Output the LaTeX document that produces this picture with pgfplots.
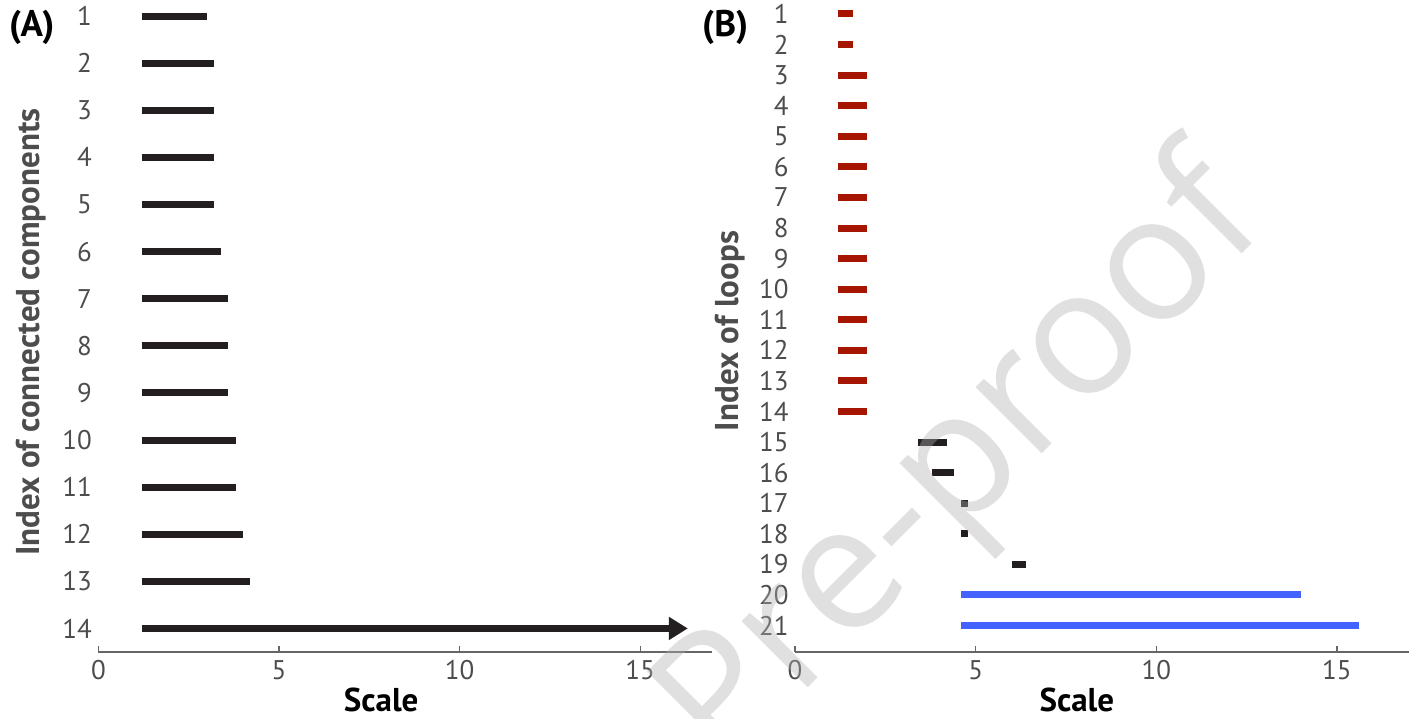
\documentclass[border=0pt]{standalone}
\usepackage{fontspec}
\setmainfont{PT Sans}
\newfontfamily\wmfont{Open Sans}
\usepackage{pgfplots}
\pgfplotsset{compat=1.18}
\usetikzlibrary{arrows.meta}
\definecolor{barblack}{HTML}{231F20}
\definecolor{barred}{HTML}{A51500}
\definecolor{barblue}{HTML}{4363FF}
\definecolor{ticktext}{HTML}{4D4D4D}
\definecolor{axisgray}{HTML}{666666}
\definecolor{wmgray}{RGB}{175,175,175}
\pgfplotsset{
  barcode/.style={
    scale only axis, width=614pt, height=652pt,
    xmin=0, xmax=17, y dir=reverse,
    axis x line*=bottom, axis y line*=left,
    y axis line style={draw=none},
    x axis line style={axisgray, line width=1.3pt},
    xtick={0,5,10,15}, tick align=inside, major tick length=6pt,
    xtick style={axisgray, line width=1.3pt},
    ytick style={draw=none},
    tick label style={font=\fontsize{27}{30}\selectfont, text=ticktext},
    /pgf/number format/assume math mode=true,
    xticklabel style={yshift=-5pt},
    yticklabel style={xshift=-3pt},
    xlabel={Scale},
    xlabel style={font=\bfseries\fontsize{33}{36}\selectfont, text=black, anchor=base, yshift=-59pt},
    ylabel style={font=\bfseries\fontsize{33}{36}\selectfont, text=ticktext, anchor=base},
    bar/.style={line width=7pt, line cap=butt},
  }
}
\begin{document}
\begin{tikzpicture}
% ---------------- Panel A ----------------
\begin{axis}[barcode, at={(98.4pt,67pt)}, anchor=south west,
  ymin=0.66, ymax=14.5, ytick={1,...,14},
  ylabel={Index of connected components},
  ylabel style={at={(axis cs:-1.617,7.71)}},
  xlabel style={at={(axis cs:7.83,14.5)}}]
\addplot[bar, barblack] coordinates {(1.2,1) (3.0,1)};
\addplot[bar, barblack] coordinates {(1.2,2) (3.2,2)};
\addplot[bar, barblack] coordinates {(1.2,3) (3.2,3)};
\addplot[bar, barblack] coordinates {(1.2,4) (3.2,4)};
\addplot[bar, barblack] coordinates {(1.2,5) (3.2,5)};
\addplot[bar, barblack] coordinates {(1.2,6) (3.4,6)};
\addplot[bar, barblack] coordinates {(1.2,7) (3.6,7)};
\addplot[bar, barblack] coordinates {(1.2,8) (3.6,8)};
\addplot[bar, barblack] coordinates {(1.2,9) (3.6,9)};
\addplot[bar, barblack] coordinates {(1.2,10) (3.8,10)};
\addplot[bar, barblack] coordinates {(1.2,11) (3.8,11)};
\addplot[bar, barblack] coordinates {(1.2,12) (4.0,12)};
\addplot[bar, barblack] coordinates {(1.2,13) (4.2,13)};
\addplot[bar, barblack, -{Triangle[length=19pt,width=22pt]}] coordinates {(1.2,14) (16.32,14)};
\end{axis}
% ---------------- Panel B ----------------
\begin{axis}[barcode, at={(795.1pt,67pt)}, anchor=south west,
  ymin=0.5425, ymax=21.866, ytick={1,...,21},
  ylabel={Index of loops},
  ylabel style={at={(axis cs:-1.58,11.37)}},
  xlabel style={at={(axis cs:7.8,21.866)}}]
\addplot[bar, barred] coordinates {(1.2,1) (1.6,1)};
\addplot[bar, barred] coordinates {(1.2,2) (1.6,2)};
\addplot[bar, barred] coordinates {(1.2,3) (2.0,3)};
\addplot[bar, barred] coordinates {(1.2,4) (2.0,4)};
\addplot[bar, barred] coordinates {(1.2,5) (2.0,5)};
\addplot[bar, barred] coordinates {(1.2,6) (2.0,6)};
\addplot[bar, barred] coordinates {(1.2,7) (2.0,7)};
\addplot[bar, barred] coordinates {(1.2,8) (2.0,8)};
\addplot[bar, barred] coordinates {(1.2,9) (2.0,9)};
\addplot[bar, barred] coordinates {(1.2,10) (2.0,10)};
\addplot[bar, barred] coordinates {(1.2,11) (2.0,11)};
\addplot[bar, barred] coordinates {(1.2,12) (2.0,12)};
\addplot[bar, barred] coordinates {(1.2,13) (2.0,13)};
\addplot[bar, barred] coordinates {(1.2,14) (2.0,14)};
\addplot[bar, barblack] coordinates {(3.4,15) (4.2,15)};
\addplot[bar, barblack] coordinates {(3.8,16) (4.4,16)};
\addplot[bar, barblack] coordinates {(4.6,17) (4.8,17)};
\addplot[bar, barblack] coordinates {(4.6,18) (4.8,18)};
\addplot[bar, barblack] coordinates {(6.0,19) (6.4,19)};
\addplot[bar, barblue] coordinates {(4.6,20) (14.0,20)};
\addplot[bar, barblue] coordinates {(4.6,21) (15.6,21)};
\end{axis}
% panel letters
\node[font=\bfseries\fontsize{37}{40}\selectfont, anchor=base west, inner sep=0pt] at (9pt,682pt) {(A)};
\node[font=\bfseries\fontsize{37}{40}\selectfont, anchor=base west, inner sep=0pt] at (702pt,682pt) {(B)};
% watermark
\node[rotate=45, font=\wmfont\fontsize{175}{184}\selectfont, text=wmgray, text opacity=0.39, anchor=base, inner sep=0pt] at (997pt,220pt) {Pre-proof};
\pgfresetboundingbox
\path[use as bounding box] (0,0) rectangle (1428pt,719pt);
\end{tikzpicture}
\end{document}
